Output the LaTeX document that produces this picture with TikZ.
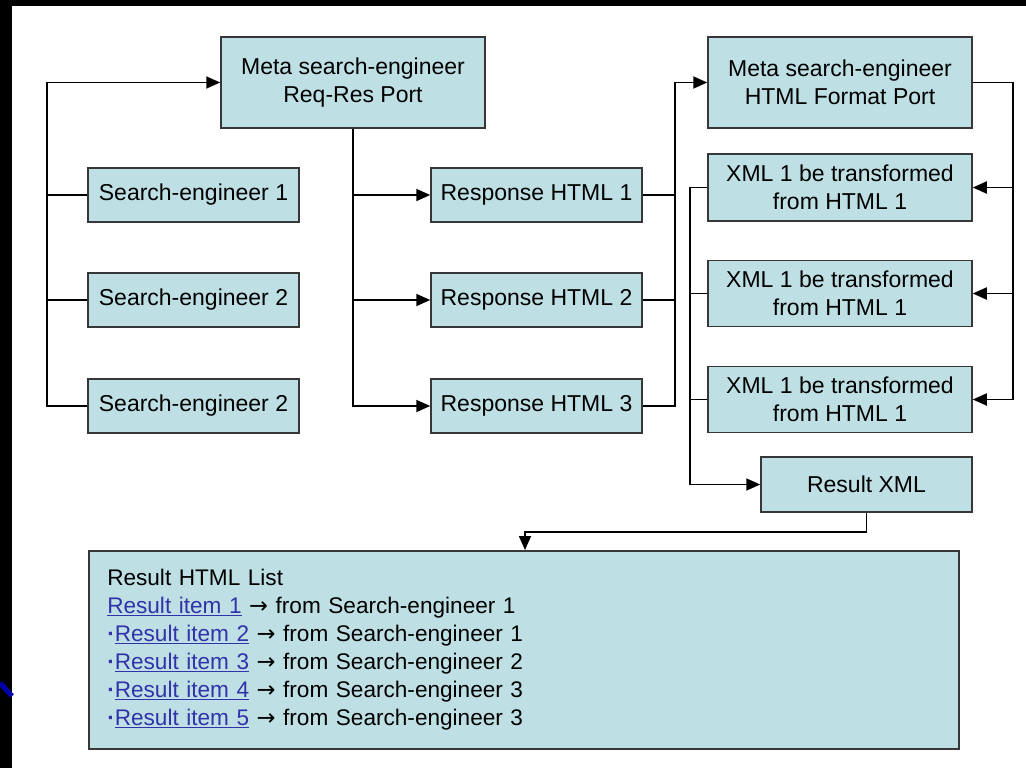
\documentclass[tikz,border=0pt]{standalone}
\usepackage{fontspec}
\setmainfont{Liberation Sans}
\newfontfamily\arrowfont{DejaVu Sans}
\usetikzlibrary{arrows.meta}
\definecolor{boxfill}{RGB}{190,224,228}
\definecolor{boxline}{RGB}{55,55,55}
\definecolor{linkblue}{RGB}{50,50,170}
\definecolor{stripblue}{RGB}{0,0,170}
\newcommand{\ra}{{\arrowfont →}}
\newcommand{\bdot}{\textbf{·}}
\begin{document}
\begin{tikzpicture}[x=1pt,y=-1pt,
  box/.style={draw=boxline, line width=1.5pt, fill=boxfill, inner sep=0pt, align=center,
    font=\fontsize{23}{28}\selectfont},
  wide/.style={box, minimum width=264pt},
  narrow/.style={box, minimum width=211pt, minimum height=54pt},
  conn/.style={line width=1.8pt, black},
  arr/.style={conn, -{Triangle[length=14pt,width=12pt]}},
]
\useasboundingbox (0,0) rectangle (1026,768);
\fill[white] (0,0) rectangle (1026,768);
\fill[black] (0,0) rectangle (1026,6);
\fill[black] (0,0) rectangle (12,768);
\draw[stripblue, line width=5pt] (0,683) -- (12,696);

% nodes
\node[wide, minimum height=91pt] (meta1) at (353,82.5) {Meta search-engineer\\Req-Res Port};
\node[wide, minimum height=91pt] (meta2) at (840,82.5) {Meta search-engineer\\HTML Format Port};

\node[narrow] (se1) at (193.5,195) {Search-engineer 1};
\node[narrow] (se2) at (193.5,300) {Search-engineer 2};
\node[narrow] (se3) at (193.5,406) {Search-engineer 2};

\node[narrow] (rh1) at (536.5,195) {Response HTML 1};
\node[narrow] (rh2) at (536.5,300) {Response HTML 2};
\node[narrow] (rh3) at (536.5,406) {Response HTML 3};

\node[wide, minimum height=67pt] (xml1) at (840,187.5) {XML 1 be transformed\\from HTML 1};
\node[wide, minimum height=66pt] (xml2) at (840,293.5) {XML 1 be transformed\\from HTML 1};
\node[wide, minimum height=66pt] (xml3) at (840,399.5) {XML 1 be transformed\\from HTML 1};

\node[narrow, minimum height=55pt] (rxml) at (866.5,484.5) {Result XML};

\node[box, anchor=north west, minimum width=870pt, minimum height=198pt, align=left,
      text width=851pt, inner xsep=0pt, inner ysep=0pt,
      font=\fontsize{22.6}{28}\selectfont] (list) at (88,550)
  {\hspace*{9pt}Result HTML List\\
   \hspace*{9pt}{\color{linkblue}\underline{Result item 1}} \ra{} from Search-engineer 1\\
   \hspace*{9pt}{\color{linkblue}\bdot\underline{Result item 2}} \ra{} from Search-engineer 1\\
   \hspace*{9pt}{\color{linkblue}\bdot\underline{Result item 3}} \ra{} from Search-engineer 2\\
   \hspace*{9pt}{\color{linkblue}\bdot\underline{Result item 4}} \ra{} from Search-engineer 3\\
   \hspace*{9pt}{\color{linkblue}\bdot\underline{Result item 5}} \ra{} from Search-engineer 3};

% helper coordinates (free ends / trunk lines)
\coordinate (lx) at (47,0);
\coordinate (mx) at (675,0);
\coordinate (rx) at (1013,0);
\coordinate (qx) at (690,0);
\coordinate (lt) at (525,550);

% search engines -> meta1
\draw[arr] (se3.west) -- (se3.west -| lx) |- (meta1.west);
\draw[conn] (se1.west) -- (se1.west -| lx);
\draw[conn] (se2.west) -- (se2.west -| lx);

% meta1 -> responses
\draw[arr] (meta1.south) |- (rh3.west);
\draw[arr] (meta1.south |- rh1.west) -- (rh1.west);
\draw[arr] (meta1.south |- rh2.west) -- (rh2.west);

% responses -> meta2
\draw[arr] (rh3.east) -- (rh3.east -| mx) |- (meta2.west);
\draw[conn] (rh1.east) -- (rh1.east -| mx);
\draw[conn] (rh2.east) -- (rh2.east -| mx);

% meta2 -> xml boxes
\draw[arr] (meta2.east) -- (meta2.east -| rx) |- (xml3.east);
\draw[arr] (xml1.east -| rx) -- (xml1.east);
\draw[arr] (xml2.east -| rx) -- (xml2.east);

% xml boxes -> result xml
\draw[arr] (xml1.west) -- (xml1.west -| qx) |- (rxml.west);
\draw[conn] (xml2.west) -- (xml2.west -| qx);
\draw[conn] (xml3.west) -- (xml3.west -| qx);

% result xml -> list
\draw[arr] (rxml.south) -- ++(0,19) -| (lt);
\end{tikzpicture}
\end{document}
